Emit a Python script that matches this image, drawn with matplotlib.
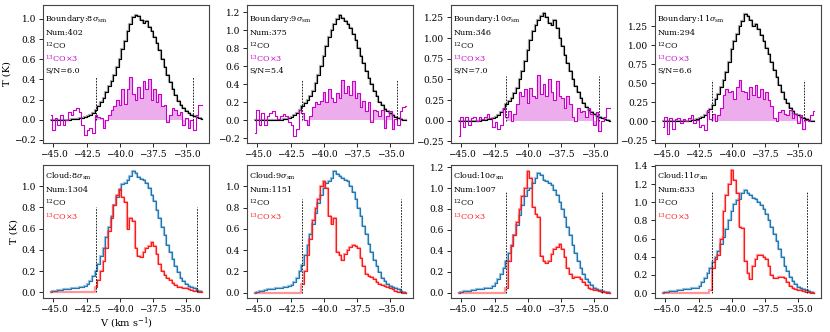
import numpy as np
import matplotlib
matplotlib.use("Agg")
import matplotlib.pyplot as plt

plt.rcParams['font.family'] = ['DejaVu Serif']
plt.rcParams['mathtext.fontset'] = 'dejavuserif'

# velocity channels (km/s)
v_start = -45.2
v_step = 0.2
n_chan = 58
velocity = v_start + v_step * np.arange(n_chan)

# ---- Boundary spectra (top row) ----
b8_12 = [0, 0, 0, 0, 0, 0, 0, 0, 0.005, 0.01, 0.01, 0.015, 0.02, 0.03, 0.04, 0.05, 0.07, 0.1, 0.14, 0.18,
         0.22, 0.27, 0.33, 0.38, 0.44, 0.52, 0.6, 0.7, 0.78, 0.88, 0.95, 1.02, 1.04, 1.03, 0.99, 0.96, 0.98, 0.92,
         0.88, 0.82, 0.76, 0.69, 0.6, 0.52, 0.44, 0.37, 0.3, 0.24, 0.19, 0.15, 0.12, 0.09, 0.07, 0.05, 0.04, 0.03,
         0.02, 0.01]
b8_13 = [0.05, -0.1, 0.02, -0.05, 0.05, -0.05, 0.0, 0.08, 0.05, 0.1, 0.12, 0.08, -0.05, -0.15, -0.1, -0.08,
         -0.13, 0.05, 0.03, 0.02, -0.08, 0.0, 0.05, 0.1, 0.14, 0.2, 0.15, 0.3, 0.16, 0.3, 0.42, 0.25, 0.2, 0.32,
         0.22, 0.38, 0.3, 0.4, 0.2, 0.3, 0.18, 0.25, 0.14, 0.15, -0.02, 0.05, 0.12, 0.1, 0.05, 0.08, -0.05, 0.02,
         -0.08, 0.0, -0.1, 0.05, 0.15, 0.15]
b9_12 = [0, 0, 0, 0, 0, 0, 0, 0, 0, 0.005, 0.01, 0.015, 0.02, 0.03, 0.04, 0.06, 0.08, 0.12, 0.16, 0.19, 0.23,
         0.27, 0.33, 0.41, 0.5, 0.6, 0.72, 0.82, 0.92, 1.0, 1.07, 1.12, 1.17, 1.14, 1.1, 1.07, 1.02, 0.96, 0.89,
         0.8, 0.72, 0.64, 0.55, 0.47, 0.4, 0.33, 0.27, 0.21, 0.17, 0.13, 0.1, 0.08, 0.06, 0.04, 0.03, 0.02, 0.01,
         0.0]
b9_13 = [-0.14, 0.12, -0.05, 0.08, -0.05, 0.05, 0.08, 0.1, 0.05, 0.02, 0.05, 0.07, 0.05, -0.02, -0.05, -0.17,
         -0.1, 0.12, 0.08, 0.0, -0.05, 0.05, 0.15, 0.2, 0.18, 0.22, 0.32, 0.2, 0.35, 0.25, 0.2, 0.3, 0.25, 0.45,
         0.3, 0.38, 0.28, 0.44, 0.25, 0.3, 0.15, 0.22, 0.1, 0.2, -0.02, 0.12, 0.1, 0.05, 0.12, -0.08, 0.05, 0.1,
         -0.1, 0.02, -0.05, 0.1, 0.15, 0.16]
b10_12 = [0, 0, 0, 0, 0, 0, 0, 0, 0, 0.005, 0.01, 0.02, 0.02, 0.03, 0.05, 0.07, 0.1, 0.14, 0.2, 0.24, 0.28,
          0.33, 0.4, 0.5, 0.6, 0.72, 0.85, 0.98, 1.08, 1.16, 1.22, 1.27, 1.3, 1.26, 1.18, 1.16, 1.22, 1.12, 1.0,
          0.9, 0.8, 0.7, 0.6, 0.5, 0.42, 0.35, 0.28, 0.22, 0.17, 0.13, 0.1, 0.08, 0.06, 0.04, 0.03, 0.02, 0.01,
          0.0]
b10_13 = [-0.19, 0.05, -0.08, 0.05, -0.05, 0.03, 0.05, 0.0, 0.04, 0.02, 0.05, 0.08, 0.03, -0.08, -0.02, -0.1,
          -0.05, 0.15, 0.05, 0.12, 0.0, 0.08, 0.2, 0.35, 0.3, 0.38, 0.22, 0.4, 0.3, 0.28, 0.55, 0.32, 0.45, 0.3,
          0.5, 0.35, 0.25, 0.48, 0.3, 0.28, 0.15, 0.3, 0.2, 0.05, 0.0, 0.15, 0.1, 0.12, 0.05, 0.15, 0.08, -0.05,
          0.1, -0.12, 0.0, 0.05, 0.15, 0.15]
b11_12 = [0, 0, 0, 0, 0, 0, 0, 0, 0, 0.005, 0.01, 0.015, 0.02, 0.03, 0.04, 0.06, 0.08, 0.12, 0.16, 0.22, 0.3,
          0.36, 0.45, 0.55, 0.65, 0.78, 0.95, 1.05, 1.15, 1.26, 1.32, 1.41, 1.38, 1.33, 1.26, 1.28, 1.22, 1.14,
          1.06, 0.96, 0.88, 0.78, 0.68, 0.58, 0.48, 0.38, 0.3, 0.24, 0.18, 0.14, 0.1, 0.08, 0.06, 0.04, 0.03,
          0.02, 0.01, 0.0]
b11_13 = [-0.08, 0.06, -0.17, 0.05, -0.1, 0.03, 0.05, -0.02, 0.03, 0.0, 0.05, 0.08, -0.02, 0.02, -0.08, -0.05,
          -0.12, 0.15, 0.03, 0.1, 0.0, 0.08, 0.18, 0.35, 0.42, 0.38, 0.4, 0.3, 0.45, 0.55, 0.4, 0.38, 0.3, 0.45,
          0.35, 0.48, 0.32, 0.42, 0.3, 0.38, 0.28, 0.2, 0.05, 0.0, 0.12, 0.15, 0.1, 0.08, 0.15, 0.05, 0.1, -0.02,
          0.08, -0.1, 0.02, 0.0, 0.08, 0.13]

# ---- Cloud spectra (bottom row) ----
c8_12 = [0.0, 0.01, 0.015, 0.02, 0.025, 0.03, 0.03, 0.035, 0.04, 0.04, 0.045, 0.05, 0.05, 0.06, 0.08, 0.11,
         0.15, 0.2, 0.27, 0.34, 0.42, 0.52, 0.62, 0.72, 0.82, 0.9, 0.96, 1.02, 1.03, 1.06, 1.1, 1.14, 1.12, 1.09,
         1.07, 1.06, 1.03, 0.98, 0.92, 0.86, 0.78, 0.7, 0.62, 0.54, 0.45, 0.38, 0.31, 0.25, 0.19, 0.14, 0.11,
         0.08, 0.06, 0.05, 0.04, 0.02, 0.01, 0.0]
c8_13 = [0, 0, 0, 0, 0, 0, 0, 0, 0, 0, 0, 0, 0, 0, 0, 0, 0, 0.05, 0.12, 0.2, 0.3, 0.42, 0.58, 0.7, 0.82, 0.92,
         0.97, 0.9, 0.85, 0.6, 0.7, 0.67, 0.42, 0.34, 0.33, 0.38, 0.42, 0.44, 0.47, 0.44, 0.36, 0.27, 0.2, 0.16,
         0.14, 0.12, 0.09, 0.07, 0.05, 0.05, 0.04, 0.04, 0.03, 0.02, 0.01, 0.01, 0.0, 0.0]
c9_12 = [0.0, 0.01, 0.015, 0.02, 0.025, 0.03, 0.03, 0.035, 0.04, 0.04, 0.045, 0.05, 0.05, 0.06, 0.07, 0.1,
         0.14, 0.2, 0.26, 0.35, 0.45, 0.55, 0.65, 0.75, 0.84, 0.92, 0.98, 1.03, 1.05, 1.08, 1.14, 1.12, 1.1, 1.08,
         1.06, 1.05, 1.0, 0.95, 0.88, 0.8, 0.72, 0.63, 0.55, 0.46, 0.38, 0.31, 0.25, 0.19, 0.14, 0.11, 0.08,
         0.06, 0.05, 0.04, 0.03, 0.02, 0.01, 0.0]
c9_13 = [0, 0, 0, 0, 0, 0, 0, 0, 0, 0, 0, 0, 0, 0, 0, 0, 0, 0.0, 0.08, 0.2, 0.35, 0.5, 0.68, 0.8, 0.88, 1.0,
         1.05, 0.98, 0.72, 0.65, 0.7, 0.38, 0.35, 0.31, 0.36, 0.4, 0.43, 0.45, 0.44, 0.42, 0.33, 0.25, 0.18, 0.16,
         0.15, 0.13, 0.1, 0.08, 0.07, 0.06, 0.05, 0.04, 0.03, 0.02, 0.01, 0.01, 0.0, 0.0]
c10_12 = [0.0, 0.01, 0.015, 0.02, 0.02, 0.025, 0.03, 0.035, 0.04, 0.04, 0.045, 0.05, 0.05, 0.06, 0.09, 0.13,
          0.18, 0.24, 0.3, 0.38, 0.46, 0.55, 0.65, 0.74, 0.84, 0.92, 0.98, 1.0, 1.05, 1.1, 1.14, 1.12, 1.08, 1.07,
          1.05, 1.03, 0.98, 0.93, 0.87, 0.8, 0.72, 0.63, 0.55, 0.46, 0.38, 0.3, 0.24, 0.18, 0.13, 0.1, 0.07, 0.05,
          0.04, 0.03, 0.02, 0.01, 0.01, 0.0]
c10_13 = [0, 0, 0, 0, 0, 0, 0, 0, 0, 0, 0, 0, 0, 0, 0, 0, 0, 0.0, 0.05, 0.3, 0.45, 0.55, 0.68, 0.8, 0.92, 1.0,
          1.16, 1.1, 0.82, 0.75, 0.72, 0.35, 0.3, 0.28, 0.3, 0.37, 0.42, 0.44, 0.47, 0.42, 0.34, 0.24, 0.18, 0.14,
          0.15, 0.15, 0.13, 0.1, 0.07, 0.05, 0.04, 0.03, 0.03, 0.02, 0.01, 0.01, 0.0, 0.0]
c11_12 = [0.0, 0.01, 0.015, 0.02, 0.02, 0.025, 0.03, 0.035, 0.04, 0.04, 0.045, 0.05, 0.05, 0.06, 0.08, 0.12,
          0.17, 0.22, 0.28, 0.34, 0.4, 0.46, 0.54, 0.62, 0.7, 0.8, 0.9, 0.98, 1.02, 1.03, 1.1, 1.13, 1.1, 1.08,
          1.05, 1.04, 1.0, 0.97, 0.92, 0.87, 0.8, 0.73, 0.65, 0.57, 0.48, 0.4, 0.3, 0.24, 0.18, 0.13, 0.1, 0.07,
          0.05, 0.04, 0.03, 0.02, 0.01, 0.0]
c11_13 = [0, 0, 0, 0, 0, 0, 0, 0, 0, 0, 0, 0, 0, 0, 0, 0, 0, 0.0, 0.03, 0.28, 0.38, 0.42, 0.6, 0.9, 1.08, 1.2,
          1.35, 1.25, 1.1, 0.73, 0.72, 0.35, 0.22, 0.15, 0.3, 0.38, 0.42, 0.42, 0.4, 0.38, 0.3, 0.2, 0.17, 0.16,
          0.18, 0.18, 0.16, 0.12, 0.08, 0.06, 0.04, 0.03, 0.03, 0.02, 0.01, 0.01, 0.0, 0.0]

levels = [8, 9, 10, 11]
boundary_num = [402, 375, 346, 294]
boundary_sn = ["6.0", "5.4", "7.0", "6.6"]
cloud_num = [1304, 1151, 1007, 833]
boundary_12 = [b8_12, b9_12, b10_12, b11_12]
boundary_13 = [b8_13, b9_13, b10_13, b11_13]
cloud_12 = [c8_12, c9_12, c10_12, c11_12]
cloud_13 = [c8_13, c9_13, c10_13, c11_13]
# integration windows (dashed lines)
boundary_win = [(-41.8, -34.5), (-41.65, -34.5), (-41.65, -34.65), (-41.5, -34.6)]
cloud_win = [(-41.8, -34.2), (-41.65, -34.2), (-41.65, -34.45), (-41.5, -34.35)]
boundary_dash_h = [0.42, 0.45, 0.54, 0.55]
cloud_dash_h = [0.80, 0.88, 0.97, 1.11]

# layout
W, H = 830, 332
lefts = [43, 247, 451, 655]
ax_w = 166
top_row = (5, 138)
bot_row = (165, 133)
top_ylims = [(-0.232, 1.139), (-0.25, 1.28), (-0.27, 1.40), (-0.285, 1.53)]
top_yticks = [np.arange(-0.2, 1.01, 0.2), np.arange(-0.2, 1.21, 0.2),
              np.arange(-0.25, 1.26, 0.25), np.arange(-0.25, 1.26, 0.25)]
bot_ylims = [(-0.053, 1.20), (-0.05, 1.20), (-0.05, 1.22), (-0.055, 1.41)]
bot_yticks = [np.arange(0, 1.01, 0.2), np.arange(0, 1.01, 0.2), np.arange(0, 1.21, 0.2), np.arange(0, 1.41, 0.2)]
xlim = (-45.79, -33.30)
xticks = [-45.0, -42.5, -40.0, -37.5, -35.0]

MAG = '#c800c8'
BLUE = '#1f77b4'
RED = '#ff1a1a'

fig = plt.figure(figsize=(W / 100, H / 100), dpi=100)


def make_ax(left, row):
    top, h = row
    return fig.add_axes([left / W, 1 - (top + h) / H, ax_w / W, h / H])


def style(ax):
    ax.set_xlim(*xlim)
    ax.set_xticks(xticks)
    ax.set_xticklabels([f"{t:.1f}".replace('-', '\u2212') for t in xticks])
    ax.tick_params(labelsize=6.5, length=3, width=0.6, pad=2)
    for s in ax.spines.values():
        s.set_linewidth(0.8)
        s.set_color('#444444')


def label_fmt(vals, dec):
    return [f"{t:.{dec}f}".replace('-', '\u2212') for t in vals]


for i in range(4):
    # top: boundary
    ax = make_ax(lefts[i], top_row)
    y12 = np.array(boundary_12[i])
    y13 = np.array(boundary_13[i])
    lo, hi = boundary_win[i]
    ax.step(velocity, y12, where='mid', color='gray', lw=1.6, alpha=0.7)
    ax.step(velocity, y12, where='mid', color='black', lw=0.8)
    inwin = (velocity >= lo - 0.1) & (velocity <= hi + 0.1)
    ax.fill_between(velocity, 0, y13, where=inwin, step='mid', color=MAG, alpha=0.32, lw=0)
    ax.step(velocity, y13, where='mid', color=MAG, lw=0.8)
    ax.vlines([lo, hi], 0, boundary_dash_h[i], colors='black', linestyles=(0, (2, 1.5)), lw=0.6)
    style(ax)
    ax.set_ylim(*top_ylims[i])
    ax.set_yticks(top_yticks[i])
    ax.set_yticklabels(label_fmt(top_yticks[i], 1 if i < 2 else 2))
    ys = [0.90, 0.80, 0.705, 0.61, 0.52]
    ax.text(0.015, ys[0], rf"Boundary:{levels[i]}$\sigma_{{\rm sm}}$", transform=ax.transAxes, fontsize=5.8, va='center')
    ax.text(0.015, ys[1], f"Num:{boundary_num[i]}", transform=ax.transAxes, fontsize=5.8, va='center')
    ax.text(0.015, ys[2], r"$^{12}$CO", transform=ax.transAxes, fontsize=5.8, va='center')
    ax.text(0.015, ys[3], r"$^{13}$CO$\times$3", transform=ax.transAxes, fontsize=5.8, va='center', color=MAG)
    ax.text(0.015, ys[4], f"S/N={boundary_sn[i]}", transform=ax.transAxes, fontsize=5.8, va='center')
    if i == 0:
        ax.set_ylabel("T (K)", fontsize=7, labelpad=2)

    # bottom: cloud
    ax = make_ax(lefts[i], bot_row)
    y12 = np.array(cloud_12[i])
    y13 = np.array(cloud_13[i])
    lo, hi = cloud_win[i]
    ax.step(velocity, y12, where='mid', color=BLUE, lw=1.6, alpha=0.45)
    ax.step(velocity, y12, where='mid', color=BLUE, lw=0.8)
    ax.step(velocity, y13, where='mid', color=RED, lw=1.6, alpha=0.45)
    m = velocity >= lo - 0.1
    ax.step(velocity[m], y13[m], where='mid', color=RED, lw=0.8)
    ax.vlines([lo, hi], 0, cloud_dash_h[i], colors='black', linestyles=(0, (2, 1.5)), lw=0.6)
    style(ax)
    ax.set_ylim(*bot_ylims[i])
    ax.set_yticks(bot_yticks[i])
    ax.set_yticklabels(label_fmt(bot_yticks[i], 1))
    ys = [0.915, 0.815, 0.715, 0.612]
    ax.text(0.015, ys[0], rf"Cloud:{levels[i]}$\sigma_{{\rm sm}}$", transform=ax.transAxes, fontsize=5.8, va='center')
    ax.text(0.015, ys[1], f"Num:{cloud_num[i]}", transform=ax.transAxes, fontsize=5.8, va='center')
    ax.text(0.015, ys[2], r"$^{12}$CO", transform=ax.transAxes, fontsize=5.8, va='center')
    ax.text(0.015, ys[3], r"$^{13}$CO$\times$3", transform=ax.transAxes, fontsize=5.8, va='center', color=RED)
    if i == 0:
        ax.set_ylabel("T (K)", fontsize=7, labelpad=2)
        ax.set_xlabel(r"V (km s$^{-1}$)", fontsize=7, labelpad=1)

fig.savefig("out.png", dpi=100)
